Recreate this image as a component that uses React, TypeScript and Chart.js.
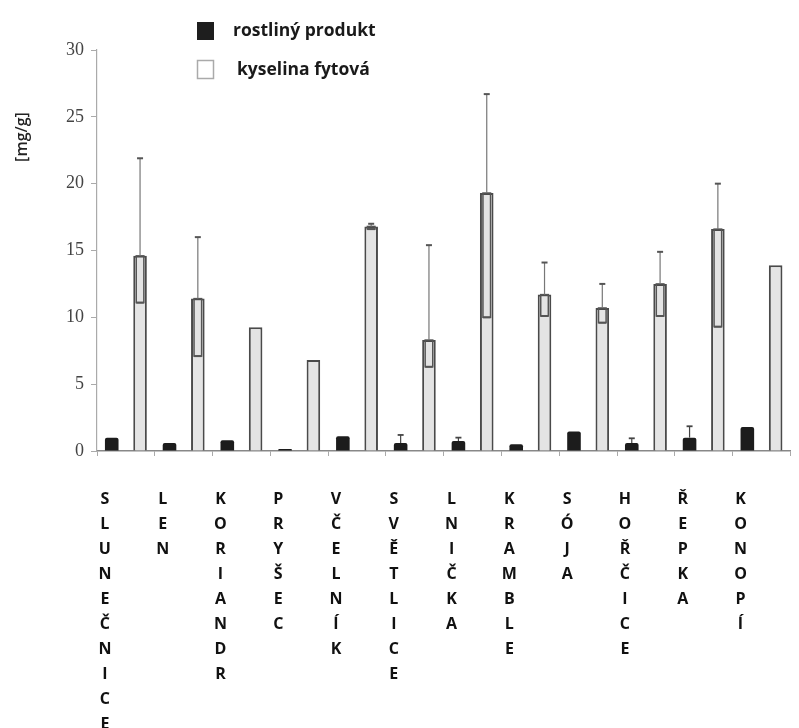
import React, { useEffect, useRef } from "react";
import { Chart, registerables } from "chart.js";

Chart.register(...registerables);

const categories = [
  "SLUNEČNICE",
  "LEN",
  "KORIANDR",
  "PRYŠEC",
  "VČELNÍK",
  "SVĚTLICE",
  "LNIČKA",
  "KRAMBLE",
  "SÓJA",
  "HOŘČICE",
  "ŘEPKA",
  "KONOPÍ",
];

const seriesNames = ["rostliný produkt", "kyselina fytová"];

const plantProduct = [1.0, 0.6, 0.8, 0.15, 1.1, 0.6, 0.75, 0.5, 1.45, 0.6, 1.0, 1.8];
const plantHigh = [null, null, null, null, null, 1.2, 1.0, null, null, 0.95, 1.85, null];

const phyticAcid = [14.6, 11.4, 9.25, 6.8, 16.8, 8.3, 19.3, 11.7, 10.7, 12.5, 16.6, 13.9];
const phyticHigh = [21.9, 16.0, null, null, 17.0, 15.4, 26.7, 14.1, 12.5, 14.9, 20.0, null];
const phyticLow = [11.1, 7.1, null, null, 16.6, 6.3, 10.0, 10.1, 9.6, 10.1, 9.3, null];

const yTicks = [0, 5, 10, 15, 20, 25, 30];
const yTitle = "[mg/g]";

const W = 799;
const H = 800;
const AXIS_X = 97;
const AXIS_Y = 451;

const errorBarsPlugin = {
  id: "errorBars",
  afterDatasetsDraw(chart: any) {
    const ctx = chart.ctx;
    const y = chart.scales.y;
    ctx.save();
    const metaL = chart.getDatasetMeta(1);
    metaL.data.forEach((bar: any, i: number) => {
      const hi = phyticHigh[i];
      const lo = phyticLow[i];
      if (hi == null || lo == null) return;
      const top = y.getPixelForValue(phyticAcid[i]);
      const yHi = y.getPixelForValue(hi);
      const yLo = y.getPixelForValue(lo);
      const half = bar.width / 2;
      ctx.strokeStyle = "#555";
      ctx.lineWidth = 1.5;
      ctx.strokeRect(bar.x - half + 3, top, bar.width - 6, yLo - top);
      ctx.lineWidth = 2;
      ctx.beginPath();
      ctx.moveTo(bar.x - half + 3, yLo);
      ctx.lineTo(bar.x + half - 3, yLo);
      ctx.stroke();
      ctx.strokeStyle = "#777";
      ctx.lineWidth = 1.2;
      ctx.beginPath();
      ctx.moveTo(bar.x, top);
      ctx.lineTo(bar.x, yHi);
      ctx.stroke();
      ctx.strokeStyle = "#555";
      ctx.lineWidth = 2;
      ctx.beginPath();
      ctx.moveTo(bar.x - 3, yHi);
      ctx.lineTo(bar.x + 3, yHi);
      ctx.stroke();
    });
    const metaP = chart.getDatasetMeta(0);
    metaP.data.forEach((bar: any, i: number) => {
      const hi = plantHigh[i];
      if (hi == null) return;
      const top = y.getPixelForValue(plantProduct[i]);
      const yHi = y.getPixelForValue(hi);
      ctx.strokeStyle = "#444";
      ctx.lineWidth = 1.2;
      ctx.beginPath();
      ctx.moveTo(bar.x, top);
      ctx.lineTo(bar.x, yHi);
      ctx.stroke();
      ctx.lineWidth = 1.8;
      ctx.beginPath();
      ctx.moveTo(bar.x - 3, yHi);
      ctx.lineTo(bar.x + 3, yHi);
      ctx.stroke();
    });
    ctx.restore();
  },
};

const decorPlugin = {
  id: "decor",
  afterDraw(chart: any) {
    const ctx = chart.ctx;
    ctx.save();
    ctx.translate(22, 137);
    ctx.rotate(-Math.PI / 2);
    ctx.fillStyle = "#222";
    ctx.font = "600 16px 'Open Sans'";
    ctx.textAlign = "center";
    ctx.textBaseline = "middle";
    ctx.fillText(yTitle, 0, 0);
    ctx.restore();

    ctx.save();
    ctx.fillStyle = "#1e1e1e";
    ctx.fillRect(197, 22, 17, 18);
    ctx.fillStyle = "#ffffff";
    ctx.fillRect(197, 60, 17, 19);
    ctx.strokeStyle = "#aaa";
    ctx.lineWidth = 1.5;
    ctx.strokeRect(197.5, 60.5, 16, 18);
    ctx.fillStyle = "#1a1a1a";
    ctx.font = "bold 17.5px 'Open Sans'";
    ctx.textAlign = "left";
    ctx.textBaseline = "middle";
    ctx.fillText(seriesNames[0], 233, 31);
    ctx.fillText(seriesNames[1], 237, 70);
    ctx.restore();
  },
};

export default function App() {
  const ref = useRef<HTMLCanvasElement | null>(null);

  useEffect(() => {
    if (!ref.current) return;
    const chart = new Chart(ref.current, {
      type: "bar",
      data: {
        labels: categories.map((c) => Array.from(c)),
        datasets: [
          {
            label: seriesNames[0],
            data: plantProduct,
            backgroundColor: "#1c1c1c",
            borderColor: "#1c1c1c",
            borderWidth: 0,
            borderRadius: { topLeft: 2, topRight: 2, bottomLeft: 0, bottomRight: 0 },
            borderSkipped: "bottom",
          },
          {
            label: seriesNames[1],
            data: phyticAcid,
            backgroundColor: "#e4e4e4",
            borderColor: "#4a4a4a",
            borderWidth: 2,
            borderSkipped: "bottom",
          },
        ],
      },
      options: {
        responsive: false,
        animation: false,
        devicePixelRatio: 1,
        datasets: {
          bar: { categoryPercentage: 0.98, barPercentage: 0.48 },
        },
        layout: { padding: { top: 50, left: 0, right: 0, bottom: 0 } },
        plugins: {
          legend: { display: false },
          tooltip: { enabled: false },
          title: { display: false },
        },
        scales: {
          x: {
            offset: true,
            grid: {
              display: true,
              drawOnChartArea: false,
              drawTicks: true,
              tickLength: 5,
              color: "#aaa",
              offset: true,
            },
            border: { display: true, color: "#888", width: 1.5 },
            ticks: {
              autoSkip: false,
              maxRotation: 0,
              minRotation: 0,
              labelOffset: -21,
              padding: 31,
              color: "#111",
              font: { family: "'Open Sans'", size: 16, weight: "bold", lineHeight: 25 / 16 },
            },
            afterFit(scale: any) {
              scale.height = H - AXIS_Y;
            },
          },
          y: {
            min: 0,
            max: 30,
            afterBuildTicks(scale: any) {
              scale.ticks = yTicks.map((v) => ({ value: v }));
            },
            grid: {
              display: true,
              drawOnChartArea: false,
              drawTicks: true,
              tickLength: 6,
              color: "#aaa",
            },
            border: { display: true, color: "#aaa", width: 1.2 },
            ticks: {
              padding: 7,
              color: "#444",
              font: { family: "'Liberation Serif'", size: 18 },
            },
            afterFit(scale: any) {
              scale.width = AXIS_X;
            },
          },
        },
      },
      plugins: [errorBarsPlugin, decorPlugin],
    });
    return () => chart.destroy();
  }, []);

  return (
    <div
      style={{
        position: "fixed",
        left: 0,
        top: 0,
        width: W,
        height: H,
        background: "#fff",
      }}
    >
      <canvas ref={ref} width={W} height={H} style={{ display: "block", width: W, height: H }} />
    </div>
  );
}
